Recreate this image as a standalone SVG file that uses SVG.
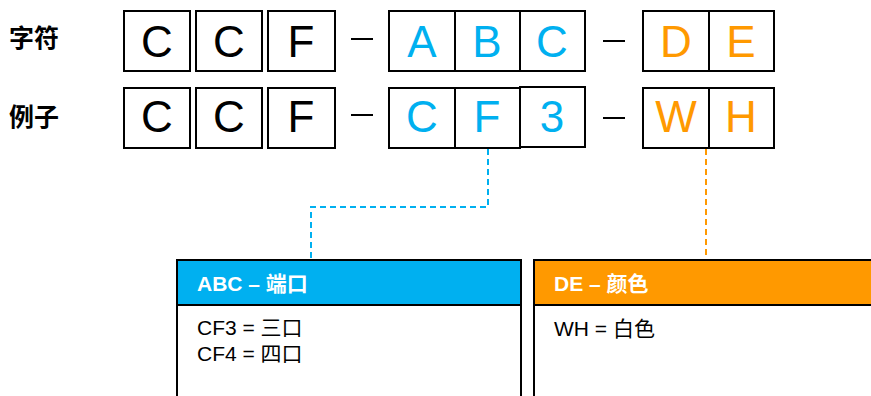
<svg xmlns="http://www.w3.org/2000/svg" width="871" height="396" viewBox="0 0 871 396">
<style>
.cell{fill:#fff;stroke:#000;stroke-width:2}
.ch{font-family:"Liberation Sans",Arial,sans-serif;font-size:44px;text-anchor:middle}
.k{fill:#000}.b{fill:#00B0F0}.o{fill:#FF9900}
.lbl{font-family:"Liberation Sans","Noto Sans CJK SC",sans-serif;font-size:25px;font-weight:bold;fill:#000}
.dash{stroke:#000;stroke-width:2}
.hdr{font-family:"Liberation Sans","Noto Sans CJK SC",sans-serif;font-size:21px;font-weight:bold;fill:#fff}
.body{font-family:"Liberation Sans","Noto Sans CJK SC",sans-serif;font-size:21px;fill:#000}
.conn{fill:none;stroke-width:2;stroke-dasharray:6 4}
</style>
<g id="labels">
<text class="lbl" x="9" y="47">字符</text>
<text class="lbl" x="9" y="126">例子</text>
</g>
<g id="row1">
<rect class="cell" x="124" y="11" width="66" height="60"/><text class="ch k" x="157" y="57">C</text>
<rect class="cell" x="196" y="11" width="66" height="60"/><text class="ch k" x="229" y="57">C</text>
<rect class="cell" x="268" y="11" width="67" height="60"/><text class="ch k" x="301" y="57">F</text>
<line class="dash" x1="351" y1="39" x2="373" y2="39"/>
<rect class="cell" x="389" y="11" width="66" height="60"/><text class="ch b" x="422" y="57">A</text>
<rect class="cell" x="455" y="11" width="65" height="60"/><text class="ch b" x="487" y="57">B</text>
<rect class="cell" x="520" y="11" width="65" height="60"/><text class="ch b" x="552" y="57">C</text>
<line class="dash" x1="603" y1="41" x2="625" y2="41"/>
<rect class="cell" x="643" y="11" width="66" height="60"/><text class="ch o" x="676" y="57">D</text>
<rect class="cell" x="709" y="11" width="65" height="60"/><text class="ch o" x="741" y="57">E</text>
</g>
<g id="row2">
<rect class="cell" x="124" y="88" width="66" height="60"/><text class="ch k" x="157" y="132">C</text>
<rect class="cell" x="196" y="88" width="66" height="60"/><text class="ch k" x="229" y="132">C</text>
<rect class="cell" x="268" y="88" width="67" height="60"/><text class="ch k" x="301" y="132">F</text>
<line class="dash" x1="351" y1="115" x2="373" y2="115"/>
<rect class="cell" x="389" y="88" width="66" height="60"/><text class="ch b" x="422" y="132">C</text>
<rect class="cell" x="455" y="88" width="65" height="60"/><text class="ch b" x="487" y="132">F</text>
<rect class="cell" x="520" y="87" width="65" height="60"/><text class="ch b" x="552" y="132">3</text>
<line class="dash" x1="603" y1="118" x2="625" y2="118"/>
<rect class="cell" x="643" y="88" width="66" height="60"/><text class="ch o" x="676" y="132">W</text>
<rect class="cell" x="709" y="88" width="65" height="60"/><text class="ch o" x="741" y="132">H</text>
</g>
<g id="connectors">
<path class="conn" stroke="#00B0F0" d="M488 149 V207 H311 V259"/>
<path class="conn" stroke="#FF9900" d="M706 149 V259"/>
</g>
<g id="abc">
<rect x="177" y="260" width="344" height="150" fill="#fff" stroke="#000" stroke-width="2"/>
<rect x="177" y="260" width="344" height="45" fill="#00B0F0" stroke="#000" stroke-width="2"/>
<text class="hdr" x="197" y="291">ABC – 端口</text>
<text class="body" x="197" y="335">CF3 = 三口</text>
<text class="body" x="197" y="361">CF4 = 四口</text>
</g>
<g id="de">
<rect x="534" y="260" width="350" height="150" fill="#fff" stroke="#000" stroke-width="2"/>
<rect x="534" y="260" width="350" height="45" fill="#FF9900" stroke="#000" stroke-width="2"/>
<text class="hdr" x="554" y="291">DE – 颜色</text>
<text class="body" x="554" y="336">WH = 白色</text>
</g>
</svg>
